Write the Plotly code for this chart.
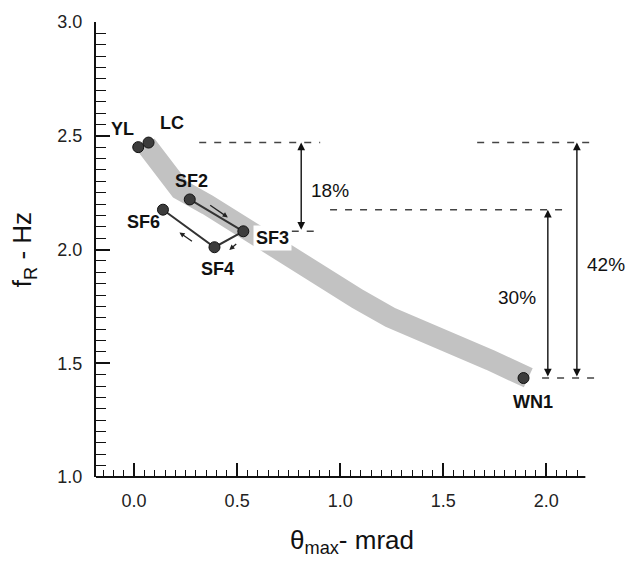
import numpy as np
import plotly.graph_objects as go

# Sites: maximum rotation (mrad) and resonance frequency (Hz)
site_names = ["YL", "LC", "SF2", "SF3", "SF4", "SF6", "WN1"]
theta_max = [0.02, 0.07, 0.27, 0.53, 0.39, 0.14, 1.89]
f_r = [2.45, 2.47, 2.22, 2.08, 2.01, 2.175, 1.435]

# Sequence of the SF measurements joined by lines
sf_path = ["SF2", "SF3", "SF4", "SF6"]

# Trend band through the data
band_theta = [0.058, 0.150, 0.223, 0.354, 0.466, 0.612, 0.757, 0.917,
              1.083, 1.243, 1.403, 1.568, 1.728, 1.913]
band_fr = [2.460, 2.355, 2.264, 2.198, 2.133, 2.037, 1.946, 1.880,
           1.784, 1.702, 1.645, 1.588, 1.514, 1.436]

# Direction arrows along the SF path: (tail theta, tail f, head theta, head f)
dir_arrows = [
    (0.362, 2.199, 0.455, 2.141),
    (0.503, 2.030, 0.462, 1.998),
    (0.288, 2.032, 0.220, 2.075),
]

# Percentage reductions: label, upper site, lower site, arrow theta
drops = [
    ("18%", "LC", "SF3", 0.811),
    ("30%", "SF6", "WN1", 2.008),
    ("42%", "LC", "WN1", 2.149),
]

# Dashed reference levels: site, theta start, theta end
ref_levels = [
    ("LC", 0.316, 0.903),
    ("SF3", 0.765, 0.895),
    ("SF6", 0.951, 2.078),
    ("LC", 1.665, 2.238),
    ("WN1", 1.980, 2.250),
]

x_ticks = [0.0, 0.5, 1.0, 1.5, 2.0]
y_ticks = [1.0, 1.5, 2.0, 2.5, 3.0]
x_minor = [round(v, 2) for v in np.arange(-0.15, 2.151, 0.05)]

x_range = [-0.185, 2.30]
x_axis_end = 2.19
y_range = [1.0, 3.0]

site = dict(zip(site_names, zip(theta_max, f_r)))

FONT = "Liberation Sans, Arial, sans-serif"

fig = go.Figure()

# grey trend band
fig.add_trace(go.Scatter(
    x=band_theta, y=band_fr, mode="lines",
    line=dict(color="#c2c2c2", width=21),
    hoverinfo="skip", showlegend=False,
))

# SF path
fig.add_trace(go.Scatter(
    x=[site[n][0] for n in sf_path], y=[site[n][1] for n in sf_path],
    mode="lines", line=dict(color="#333333", width=2),
    hoverinfo="skip", showlegend=False,
))

# site markers
fig.add_trace(go.Scatter(
    x=theta_max, y=f_r, mode="markers",
    marker=dict(size=11, color="#3c3c3c", line=dict(color="#111111", width=1)),
    text=site_names, showlegend=False,
))

shapes = []
# dashed reference levels
for name, x0, x1 in ref_levels:
    yv = site[name][1]
    shapes.append(dict(type="line", xref="x", yref="y", x0=x0, x1=x1, y0=yv, y1=yv,
                       line=dict(color="#444444", width=1.5, dash="7px,8px")))
# x axis line
shapes.append(dict(type="line", xref="x", yref="paper", x0=x_range[0], x1=x_axis_end,
                   y0=0, y1=0, line=dict(color="#111111", width=2)))

annotations = []

# site labels (pixel offsets from each marker)
label_offsets = {
    "YL": (-16, 18), "LC": (23, 20), "SF2": (2, 18), "SF3": (29, -7),
    "SF4": (3, -22), "SF6": (-19, -12), "WN1": (9, -24),
}
for n, (tx, fy) in zip(site_names, zip(theta_max, f_r)):
    dx, dy = label_offsets[n]
    annotations.append(dict(
        x=tx, y=fy, xref="x", yref="y", text=f"<b>{n}</b>", showarrow=False,
        xshift=dx, yshift=dy, font=dict(family=FONT, size=18, color="#111111"),
        bgcolor="white" if n == "SF3" else None, borderpad=2,
    ))

# direction arrows
for ax0, ay0, hx, hy in dir_arrows:
    annotations.append(dict(
        x=hx, y=hy, ax=ax0, ay=ay0, xref="x", yref="y", axref="x", ayref="y",
        text="", showarrow=True, arrowhead=2, arrowsize=0.8, arrowwidth=1.3,
        arrowcolor="#222222", standoff=0, startstandoff=0,
    ))

# double-headed percentage arrows
pct_offsets = {"18%": 29, "30%": -31, "42%": 29}
for lab, top, bot, xa in drops:
    y_top = site[top][1]
    y_bot = site[bot][1]
    annotations.append(dict(
        x=xa, y=y_top, ax=xa, ay=y_bot, xref="x", yref="y", axref="x", ayref="y",
        text="", showarrow=True, arrowhead=2, arrowside="end+start",
        arrowsize=1.1, arrowwidth=1.4, arrowcolor="#111111",
        standoff=0, startstandoff=0,
    ))
    annotations.append(dict(
        x=xa, y=(y_top + y_bot) / 2, xref="x", yref="y", text=lab, showarrow=False,
        xshift=pct_offsets[lab], yshift=-4,
        font=dict(family=FONT, size=19, color="#111111"),
    ))

fig.update_layout(
    width=636, height=561,
    margin=dict(l=96, r=28, t=19, b=83),
    paper_bgcolor="white", plot_bgcolor="white",
    font=dict(family=FONT, color="#111111"),
    shapes=shapes, annotations=annotations,
    showlegend=False,
)

fig.update_xaxes(
    range=x_range, showline=False, showgrid=False, zeroline=False,
    tickvals=x_ticks, ticktext=[f"{v:.1f}" for v in x_ticks],
    ticks="inside", ticklen=14, tickwidth=1.5, tickcolor="#111111",
    tickfont=dict(family=FONT, size=18, color="#222222"),
    ticklabelstandoff=11,
    minor=dict(tickmode="array", tickvals=x_minor, ticks="inside",
               ticklen=7, tickwidth=1.3, tickcolor="#111111"),
    title=dict(text="θ<sub>max</sub>- mrad", standoff=20,
               font=dict(family=FONT, size=26, color="#111111")),
)

fig.update_yaxes(
    range=y_range, showline=True, linecolor="#111111", linewidth=2,
    showgrid=False, zeroline=False,
    tickvals=y_ticks, ticktext=[f"{v:.1f}" for v in y_ticks],
    ticks="inside", ticklen=14, tickwidth=1.5, tickcolor="#111111",
    tickfont=dict(family=FONT, size=18, color="#222222"),
    ticklabelstandoff=8,
    minor=dict(dtick=0.05, ticks="inside", ticklen=10, tickwidth=1.3,
               tickcolor="#111111"),
    title=dict(text="f<sub>R</sub> - Hz", standoff=18,
               font=dict(family=FONT, size=26, color="#111111")),
)

fig.write_html("out.html")
